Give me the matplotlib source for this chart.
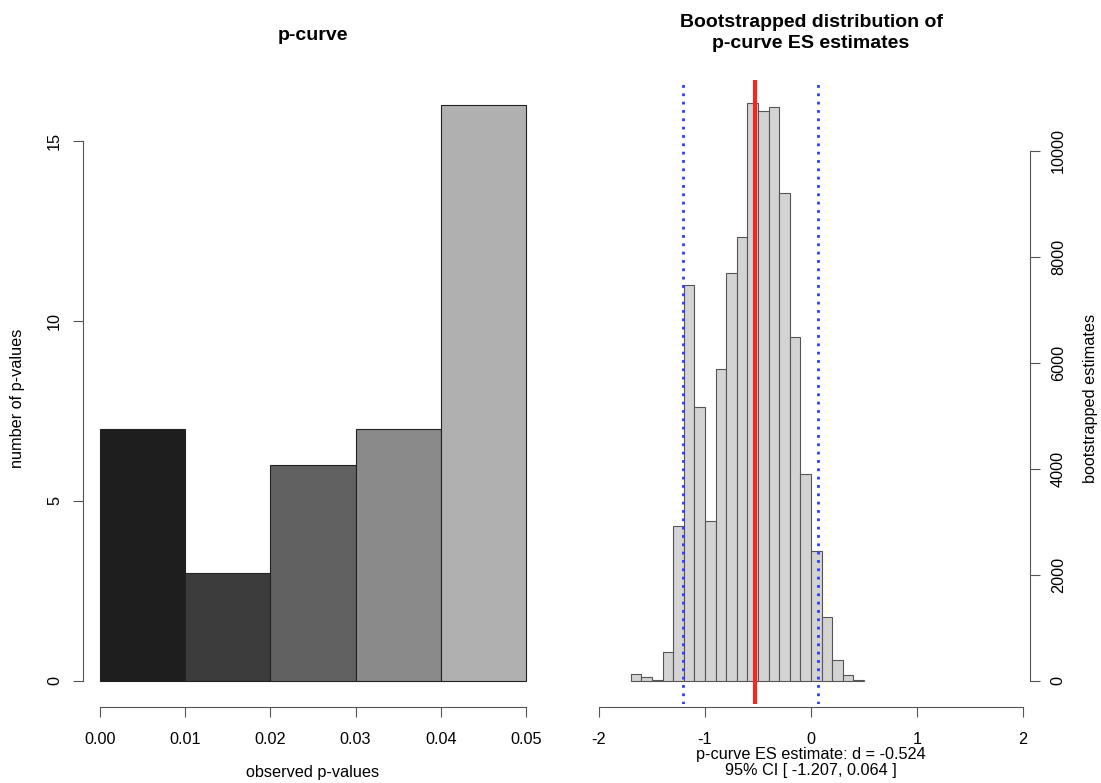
import matplotlib as mpl
import matplotlib.pyplot as plt

# left panel: p-curve
p_edges = [0.00, 0.01, 0.02, 0.03, 0.04]
p_counts = [7, 3, 6, 7, 16]
p_colors = ["#1e1e1e", "#3c3c3c", "#616161", "#8a8a8a", "#b0b0b0"]
p_ticks = [0.00, 0.01, 0.02, 0.03, 0.04, 0.05]

# right panel: bootstrapped ES estimates (bin left edges, width 0.1)
es_edges = [-1.7, -1.6, -1.5, -1.4, -1.3, -1.2, -1.1, -1.0, -0.9, -0.8, -0.7,
            -0.6, -0.5, -0.4, -0.3, -0.2, -0.1, 0.0, 0.1, 0.2, 0.3, 0.4]
es_counts = [130, 75, 15, 540, 2920, 7470, 5160, 3010, 5880, 7690, 8370,
             10900, 10760, 10820, 9200, 6490, 3900, 2450, 1200, 400, 110, 12]
es_est = -0.524
ci_lo, ci_hi = -1.207, 0.064

FS = 11.7
mpl.rcParams.update({'font.family': ['Liberation Sans', 'DejaVu Sans'],
                     'font.size': FS})
W, H = 1101, 783
fig = plt.figure(figsize=(W / 100, H / 100), dpi=100)
axc = "#555555"


def box(x0, x1, y0, y1):
    return [x0 / W, 1 - y1 / H, (x1 - x0) / W, (y1 - y0) / H]


# ---- left panel
ax = fig.add_axes(box(83, 543, 82, 704))
ax.bar(p_edges, p_counts, width=0.01, align='edge', color=p_colors,
       edgecolor="#222222", linewidth=0.8)
ax.set_xlim(-0.002, 0.052)
ax.set_ylim(-0.64, 16.64)
for s in ['top', 'right']:
    ax.spines[s].set_visible(False)
ax.spines['left'].set_bounds(0, 15)
ax.spines['bottom'].set_bounds(0, 0.05)
ax.spines['bottom'].set_position(('outward', 2))
for s in ['left', 'bottom']:
    ax.spines[s].set_color(axc)
ax.set_xticks(p_ticks)
ax.set_xticklabels(["%.2f" % t for t in p_ticks])
ax.set_yticks([0, 5, 10, 15])
ax.set_yticklabels(["0", "5", "10", "15"], rotation=90, va='center')
ax.tick_params(colors=axc, labelcolor="black", length=7, labelsize=FS)
ax.tick_params(axis='x', pad=11)
ax.tick_params(axis='y', pad=8)
fig.text(313 / W, 1 - 35 / H, "p-curve", ha='center', va='center',
         fontweight='bold', fontsize=14)
fig.text(313 / W, 1 - 772 / H, "observed p-values", ha='center', va='center')
fig.text(18 / W, 1 - 398 / H, "number of p-values", ha='center', va='center',
         rotation=90)

# ---- right panel
ax2 = fig.add_axes(box(582, 1030, 80, 704))
ax2.bar(es_edges, es_counts, width=0.1, align='edge', color="#d3d3d3",
        edgecolor="#555555", linewidth=0.8)
ax2.set_xlim(-2.16, 2.066)
ax2.set_ylim(-436, 11336)
ax2.axvline(es_est, color="#f0281e", linewidth=3)
ax2.axvline(ci_lo, color="#2a3cff", linewidth=2, linestyle=(0, (1, 2)))
ax2.axvline(ci_hi, color="#2a3cff", linewidth=2, linestyle=(0, (1, 2)))
for s in ['top', 'left']:
    ax2.spines[s].set_visible(False)
ax2.spines['right'].set_bounds(0, 10000)
ax2.spines['bottom'].set_bounds(-2, 2)
ax2.spines['bottom'].set_position(('outward', 2))
for s in ['right', 'bottom']:
    ax2.spines[s].set_color(axc)
ax2.yaxis.tick_right()
ax2.set_xticks([-2, -1, 0, 1, 2])
ax2.set_xticklabels(["-2", "-1", "0", "1", "2"])
ax2.set_yticks([0, 2000, 4000, 6000, 8000, 10000])
ax2.set_yticklabels(["0", "2000", "4000", "6000", "8000", "10000"],
                    rotation=90, va='center')
ax2.tick_params(colors=axc, labelcolor="black", length=7, labelsize=FS)
ax2.tick_params(axis='x', pad=11)
ax2.tick_params(axis='y', pad=8)
fig.text(811 / W, 1 - 33 / H, "Bootstrapped distribution of\np-curve ES estimates",
         ha='center', va='center', fontweight='bold', fontsize=14, linespacing=1.25)
fig.text(1091 / W, 1 - 398 / H, "bootstrapped estimates", ha='center', va='center',
         rotation=90)
fig.text(811 / W, 1 - 754 / H, "p-curve ES estimate: d = %.3f" % es_est,
         ha='center', va='center')
fig.text(811 / W, 1 - 771 / H, "95%% CI [ %.3f, %.3f ]" % (ci_lo, ci_hi),
         ha='center', va='center')

fig.savefig("out.png", dpi=100)
